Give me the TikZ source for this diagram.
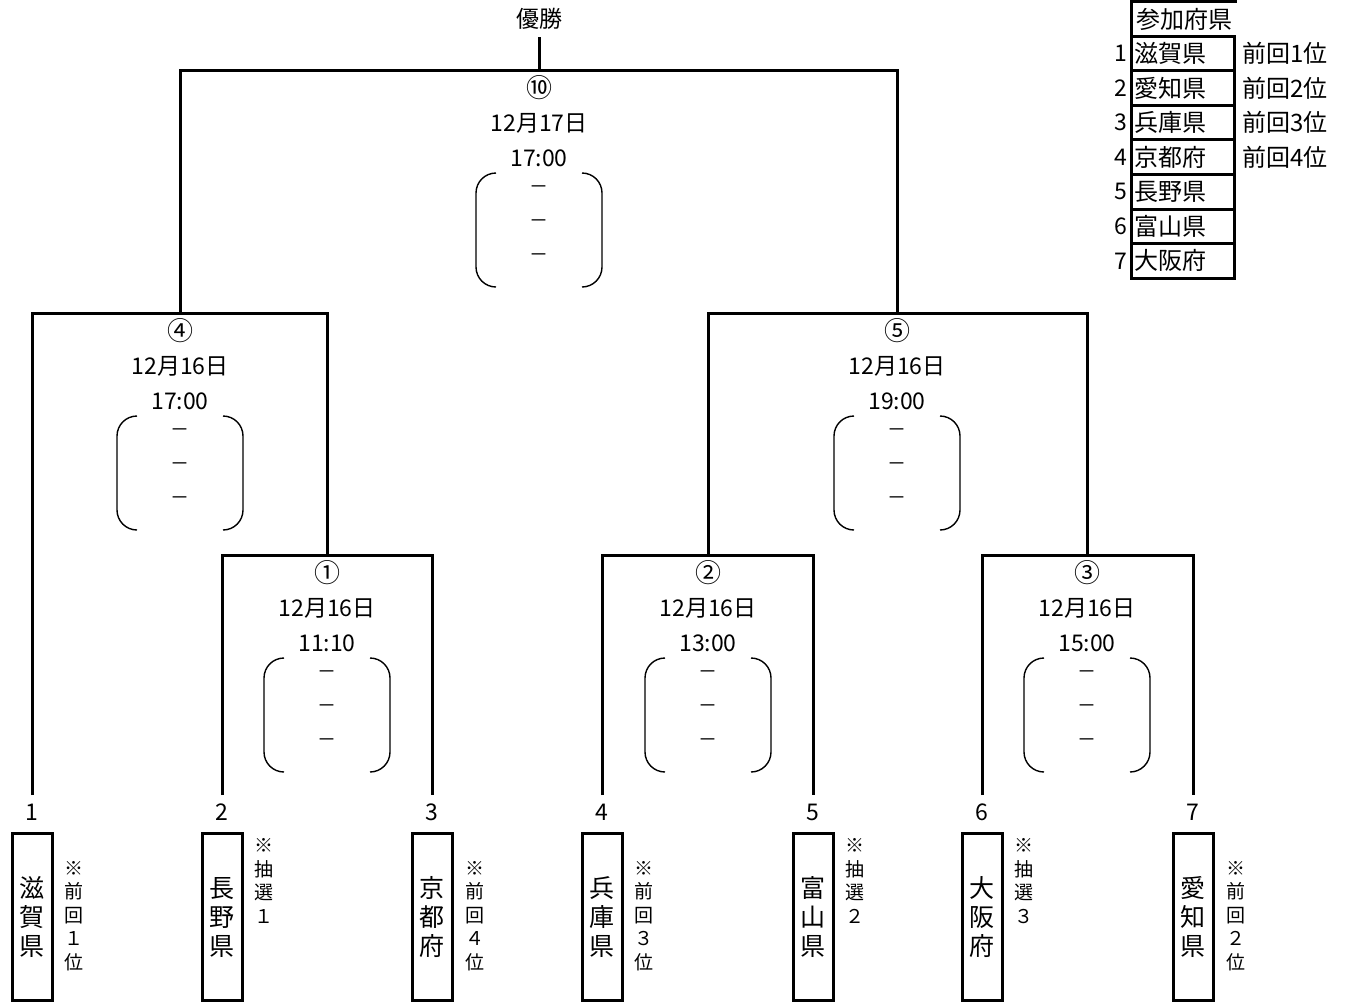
\documentclass[tikz,border=0pt]{standalone}
\usepackage{fontspec}
\newfontfamily\jp{Noto Sans CJK JP}
\begin{document}
\begin{tikzpicture}[x=1pt,y=-1pt,
  bline/.style={line width=3pt, line join=miter},
  paren/.style={line width=1.4pt, rounded corners=20pt},
  txt/.style={font=\jp\fontsize{23}{23}\selectfont, inner sep=0pt},
  circtxt/.style={font=\jp\fontsize{26}{26}\selectfont, inner sep=0pt},
  dashtxt/.style={font=\jp\fontsize{19}{19}\selectfont, inner sep=0pt},
  teambox/.style={draw, line width=3pt, minimum width=40pt, minimum height=167pt,
    inner sep=0pt, align=center, font=\jp\fontsize{25}{29}\selectfont},
  note/.style={inner sep=0pt, align=center, font=\jp\fontsize{19}{23.5}\selectfont},
  rowbox/.style={draw, line width=3pt, minimum width=103pt, minimum height=34.6pt,
    text width=97pt, inner xsep=3pt, inner ysep=0pt, align=left,
    font=\jp\fontsize{24}{24}\selectfont},
  legtxt/.style={inner sep=0pt, font=\jp\fontsize{23}{23}\selectfont}
]
\useasboundingbox (0,0) rectangle (1346,1005);

% match text block: name, x, y, number, date, time
\newcommand\mymatch[6]{%
  \node[circtxt] (#1num) at (#2,#3+18) {#4};
  \node[txt] (#1date) at (#2,#3+53) {#5};
  \node[txt] (#1time) at (#2,#3+88) {#6};
  \node[dashtxt] (#1da) at (#2,#3+120) {－};
  \node[dashtxt] (#1db) at (#2,#3+154) {－};
  \node[dashtxt] (#1dc) at (#2,#3+188) {－};
  \draw[paren] (#2-43,#3+103) -- (#2-63,#3+103) -- (#2-63,#3+217) -- (#2-43,#3+217);
  \draw[paren] (#2+43,#3+103) -- (#2+63,#3+103) -- (#2+63,#3+217) -- (#2+43,#3+217);
}

% winner
\node[txt] (w) at (539,19) {優勝};
\coordinate (wb) at (539,37);

% match junctions
\coordinate (m10) at (539,70);
\coordinate (m4) at (180,313);
\coordinate (m5) at (897,313);
\coordinate (m1) at (327,555);
\coordinate (m2) at (708,555);
\coordinate (m3) at (1087,555);

% team line ends
\coordinate (e1) at (32,795);
\coordinate (e2) at (222,795);
\coordinate (e3) at (432,795);
\coordinate (e4) at (602,795);
\coordinate (e5) at (813,795);
\coordinate (e6) at (982,795);
\coordinate (e7) at (1193,795);

% bracket lines
\draw[bline] (e2) |- (m1) -| (e3);
\draw[bline] (e4) |- (m2) -| (e5);
\draw[bline] (e6) |- (m3) -| (e7);
\draw[bline] (e1) |- (m4) -| (m1);
\draw[bline] (m2) |- (m5) -| (m3);
\draw[bline] (m4) |- (m10) -| (m5);
\draw[bline] (m10) -- (wb);

% match texts
\mymatch{mx}{539}{70}{⑩}{12月17日}{17:00}
\mymatch{md}{180}{313}{④}{12月16日}{17:00}
\mymatch{me}{897}{313}{⑤}{12月16日}{19:00}
\mymatch{ma}{327}{555}{①}{12月16日}{11:10}
\mymatch{mb}{708}{555}{②}{12月16日}{13:00}
\mymatch{mc}{1087}{555}{③}{12月16日}{15:00}

% team numbers
\node[txt] (n1) at (32,812) {1};
\node[txt] (n2) at (222,812) {2};
\node[txt] (n3) at (432,812) {3};
\node[txt] (n4) at (602,812) {4};
\node[txt] (n5) at (813,812) {5};
\node[txt] (n6) at (982,812) {6};
\node[txt] (n7) at (1193,812) {7};

% team boxes
\node[teambox] (b1) at (32,917) {滋\\賀\\県};
\node[teambox] (b2) at (222,917) {長\\野\\県};
\node[teambox] (b3) at (432,917) {京\\都\\府};
\node[teambox] (b4) at (602,917) {兵\\庫\\県};
\node[teambox] (b5) at (813,917) {富\\山\\県};
\node[teambox] (b6) at (982,917) {大\\阪\\府};
\node[teambox] (b7) at (1193,917) {愛\\知\\県};

% notes
\node[note] (c1) at (74,916) {※\\前\\回\\１\\位};
\node[note] (c2) at (264,881) {※\\抽\\選\\１};
\node[note] (c3) at (475,916) {※\\前\\回\\４\\位};
\node[note] (c4) at (644,916) {※\\前\\回\\３\\位};
\node[note] (c5) at (855,881) {※\\抽\\選\\２};
\node[note] (c6) at (1024,881) {※\\抽\\選\\３};
\node[note] (c7) at (1236,916) {※\\前\\回\\２\\位};

% legend
\node[legtxt, font=\jp\fontsize{24}{24}\selectfont] (hdr) at (1184,19) {参加府県};
\draw[line width=3pt] (1131.5,0) -- (1131.5,37);
\draw[line width=3pt] (1130,1.5) -- (1237,1.5);
\foreach \i/\name in {1/滋賀県,2/愛知県,3/兵庫県,4/京都府,5/長野県,6/富山県,7/大阪府}{
  \node[rowbox] (r\i) at (1183,{53.3+34.6*(\i-1)}) {\name};
  \node[legtxt, anchor=east] (rn\i) at (1127,{53.3+34.6*(\i-1)}) {\i};
}
\foreach \i in {1,...,4}{
  \node[legtxt, anchor=west, font=\jp\fontsize{24}{24}\selectfont] (rp\i) at (1242,{53.3+34.6*(\i-1)}) {前回\i 位};
}
\end{tikzpicture}
\end{document}
